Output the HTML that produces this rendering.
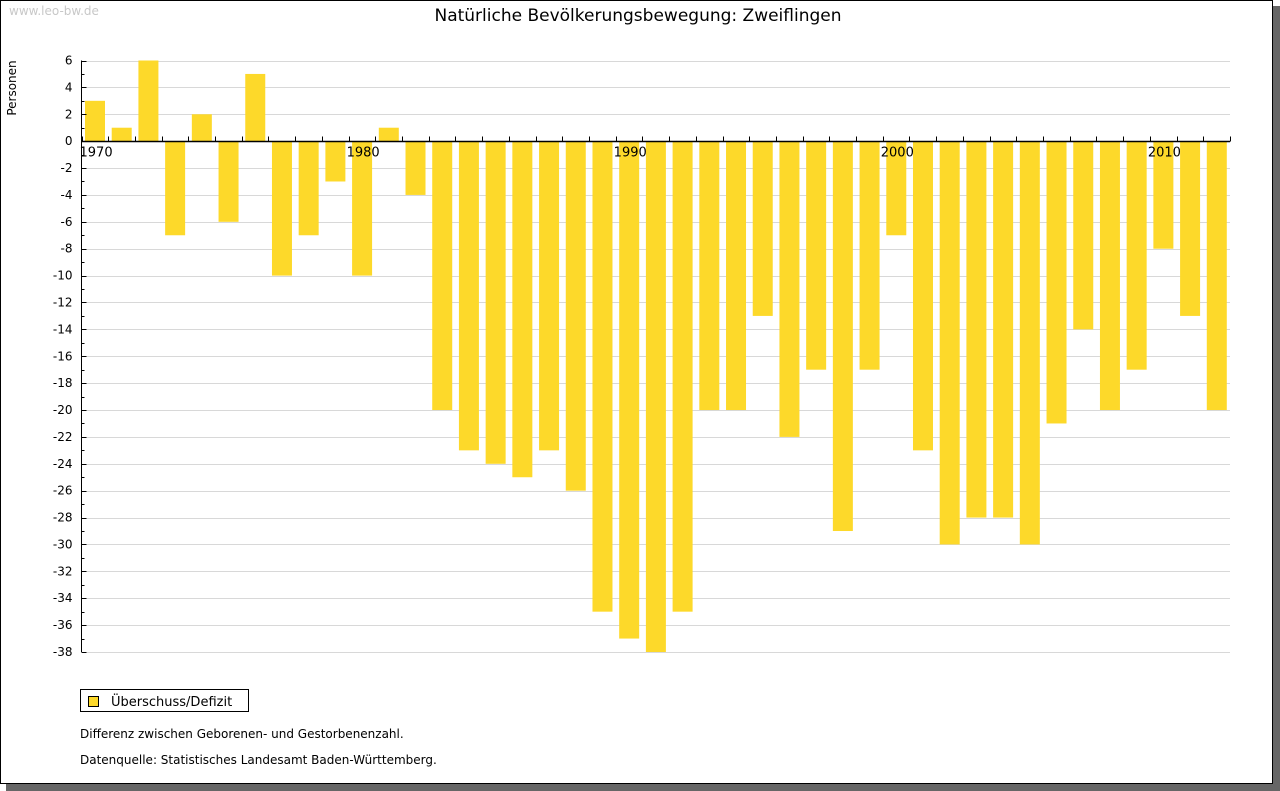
<!DOCTYPE html>
<html><head><meta charset="utf-8"><style>
body{margin:0;width:1280px;height:791px;background:#fff;font-family:"DejaVu Sans","Liberation Sans",sans-serif;overflow:hidden}
#frame{position:absolute;left:0;top:0;width:1271px;height:782px;border:1px solid #000;background:#fff}
#shadowR{position:absolute;left:1273px;top:6px;width:7px;height:785px;background:#666}
#shadowB{position:absolute;left:6px;top:784px;width:1274px;height:7px;background:#666}
</style></head><body>
<div id="shadowR"></div>
<div id="shadowB"></div>
<div id="frame"></div>
<svg id="chart" width="1280" height="791" style="position:absolute;left:0;top:0" font-family="DejaVu Sans, Liberation Sans, sans-serif">
<text x="9" y="15" font-size="12" fill="#c8c8c8">www.leo-bw.de</text>
<text x="638" y="21" font-size="17" text-anchor="middle" fill="#000">Natürliche Bevölkerungsbewegung: Zweiflingen</text>
<text transform="translate(16,88) rotate(-90)" font-size="12" text-anchor="middle">Personen</text>
<g id="grid"></g><g id="bars"></g><g id="axes"></g>
<g>
<rect x="80.5" y="689.5" width="168" height="22" fill="#fff" stroke="#000"/>
<rect x="88.5" y="696.5" width="10" height="10" fill="#fdd92a" stroke="#000"/>
<text x="111" y="706" font-size="13">Überschuss/Defizit</text>
</g>
<text x="80" y="738" font-size="12">Differenz zwischen Geborenen- und Gestorbenenzahl.</text>
<text x="80" y="764" font-size="12">Datenquelle: Statistisches Landesamt Baden-Württemberg.</text>
</svg>
<script>
const years=[1970,1971,1972,1973,1974,1975,1976,1977,1978,1979,1980,1981,1982,1983,1984,1985,1986,1987,1988,1989,1990,1991,1992,1993,1994,1995,1996,1997,1998,1999,2000,2001,2002,2003,2004,2005,2006,2007,2008,2009,2010,2011,2012];
const values=[3,1,6,-7,2,-6,5,-10,-7,-3,-10,1,-4,-20,-23,-24,-25,-23,-26,-35,-37,-38,-35,-20,-20,-13,-22,-17,-29,-17,-7,-23,-30,-28,-28,-30,-21,-14,-20,-17,-8,-13,-20];
const yTicks=[6,4,2,0,-2,-4,-6,-8,-10,-12,-14,-16,-18,-20,-22,-24,-26,-28,-30,-32,-34,-36,-38];
const xLabels=[1970,1980,1990,2000,2010];
const NS='http://www.w3.org/2000/svg';
const L=81.5,R=1230,yTop=60.5,yBot=652;
const yMax=6,yMin=-38;
function y(v){return yTop+(yMax-v)*(yBot-yTop)/(yMax-yMin);}
const cw=(R-L)/years.length;
function x(i){return L+i*cw;}
function mk(tag,attrs,parent){const e=document.createElementNS(NS,tag);for(const k in attrs)e.setAttribute(k,attrs[k]);parent.appendChild(e);return e;}
const grid=document.getElementById('grid'),bars=document.getElementById('bars'),axes=document.getElementById('axes');
yTicks.forEach(v=>{
 const g=mk('line',{x1:L,x2:R,y1:Math.round(y(v))+0.5,y2:Math.round(y(v))+0.5,stroke:'#d8d8d8'},grid);
 
 
 const t=mk('text',{x:L-9,y:y(v)+4,'font-size':12,'text-anchor':'end'},axes);
 t.textContent=v;
 
 
 mk('line',{x1:L,x2:L+5,y1:Math.round(y(v))+0.5,y2:Math.round(y(v))+0.5,stroke:'#000'},axes);
 if(v>yMin) mk('line',{x1:L,x2:L+3,y1:Math.round(y(v-1))+0.5,y2:Math.round(y(v-1))+0.5,stroke:'#000'},axes);
});
values.forEach((v,i)=>{
 const y0=y(0),y1=y(v);
 const b=mk('rect',{x:x(i)+3.5,width:20,y:Math.min(y0,y1),height:Math.abs(y1-y0),fill:'#fdd92a'},bars);
 
 
});
const z=Math.round(y(0))+0.5;
mk('line',{x1:L,x2:R,y1:z,y2:z,stroke:'#000','stroke-width':1.5},axes);
for(let i=0;i<=years.length;i++){mk('line',{x1:Math.round(x(i))+0.5,x2:Math.round(x(i))+0.5,y1:z-5,y2:z,stroke:'#000'},axes);}
mk('line',{x1:L,x2:L,y1:yTop,y2:yBot,stroke:'#000'},axes);
xLabels.forEach(yr=>{
 const i=years.indexOf(yr);
 const t=mk('text',{x:x(i)-2,y:z+15,'font-size':13},axes);
 t.textContent=yr;
 
 
});
</script>
</body></html>
